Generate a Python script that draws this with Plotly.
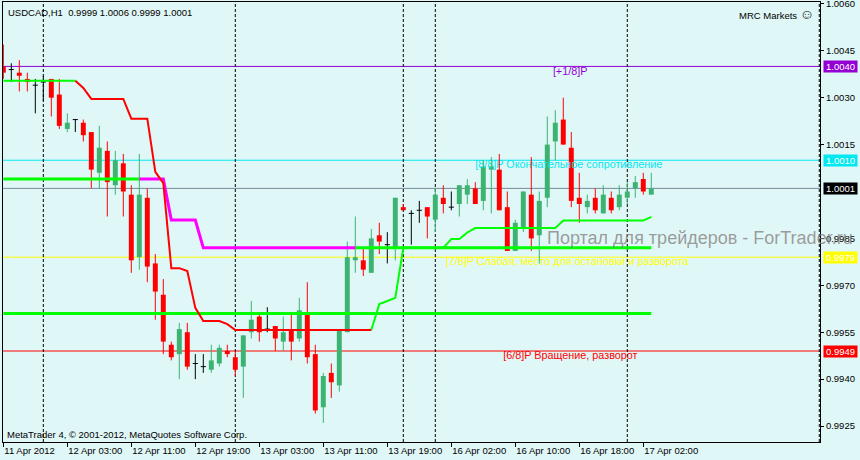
import plotly.graph_objects as go

FONT = "Liberation Sans, Arial, DejaVu Sans, sans-serif"
BG = "#E0F7F7"

# ---------------- data ----------------
bar_index = list(range(82))
opens = [1.0040, 1.0039, 1.0038, 1.0036, 1.0034, 1.0035, 1.0036, 1.0031, 1.0020, 1.0023,
         1.0022, 1.0019, 1.0006, 1.0013, 1.0002, 1.0009, 0.9999, 0.9979, 0.9998, 0.9977,
         0.9967, 0.9951, 0.9948, 0.9955, 0.9945, 0.9944, 0.9943, 0.9945, 0.9949, 0.9947,
         0.9944, 0.9955, 0.9960, 0.9956, 0.9957, 0.9952, 0.9956, 0.9953, 0.9961, 0.9948,
         0.9931, 0.9942, 0.9938, 0.9955, 0.9978, 0.9978, 0.9974, 0.9986, 0.9983, 0.9982,
         0.9995, 0.9993, 0.9994, 0.9995, 0.9991, 0.9998, 0.9995, 0.9996, 0.9999, 1.0001,
         0.9997, 1.0007, 1.0007, 0.9995, 0.9981, 0.9988, 0.9999, 0.9986, 0.9998, 1.0016,
         1.0023, 1.0014, 0.9998, 0.9995, 0.9998, 0.9993, 0.9998, 0.9995, 0.9998, 1.0001,
         1.0004, 0.9999]
highs = [1.0047, 1.0041, 1.0042, 1.0038, 1.0036, 1.0037, 1.0036, 1.0036, 1.0025, 1.0023,
         1.0023, 1.0019, 1.0021, 1.0016, 1.0013, 1.0012, 1.0002, 1.0012, 1.0001, 0.9980,
         0.9972, 0.9952, 0.9958, 0.9958, 0.9948, 0.9948, 0.9951, 0.9951, 0.9951, 0.9949,
         0.9954, 0.9965, 0.9961, 0.9963, 0.9957, 0.9960, 0.9961, 0.9966, 0.9971, 0.9951,
         0.9942, 0.9945, 0.9956, 0.9984, 0.9992, 0.9982, 0.9988, 0.9990, 0.9987, 0.9998,
         0.9996, 0.9994, 0.9997, 0.9995, 1.0001, 1.0002, 1.0000, 1.0002, 1.0004, 1.0003,
         1.0010, 1.0011, 1.0012, 1.0000, 0.9991, 1.0000, 1.0011, 1.0000, 1.0024, 1.0026,
         1.0030, 1.0019, 1.0006, 0.9999, 1.0001, 1.0002, 1.0000, 1.0002, 1.0003, 1.0005,
         1.0006, 1.0006]
lows = [1.0036, 1.0035, 1.0032, 1.0032, 1.0025, 1.0029, 1.0024, 1.0020, 1.0019, 1.0019,
        1.0016, 1.0001, 1.0001, 0.9992, 0.9999, 0.9992, 0.9974, 0.9975, 0.9971, 0.9959,
        0.9948, 0.9946, 0.9940, 0.9943, 0.9940, 0.9942, 0.9942, 0.9944, 0.9947, 0.9941,
        0.9934, 0.9953, 0.9952, 0.9955, 0.9949, 0.9949, 0.9946, 0.9952, 0.9945, 0.9929,
        0.9926, 0.9934, 0.9936, 0.9955, 0.9974, 0.9973, 0.9974, 0.9980, 0.9977, 0.9978,
        0.9994, 0.9983, 0.9990, 0.9985, 0.9987, 0.9993, 0.9994, 0.9992, 0.9996, 0.9996,
        0.9994, 0.9993, 0.9994, 0.9981, 0.9981, 0.9987, 0.9981, 0.9977, 0.9995, 1.0010,
        1.0015, 0.9995, 0.9990, 0.9993, 0.9993, 0.9993, 0.9993, 0.9994, 0.9996, 0.9998,
        0.9999, 0.9999]
closes = [1.0038, 1.0039, 1.0037, 1.0035, 1.0034, 1.0035, 1.0030, 1.0021, 1.0022, 1.0023,
          1.0018, 1.0007, 1.0014, 1.0003, 1.0010, 1.0000, 0.9978, 0.9999, 0.9976, 0.9968,
          0.9952, 0.9947, 0.9956, 0.9944, 0.9945, 0.9944, 0.9946, 0.9950, 0.9948, 0.9943,
          0.9954, 0.9959, 0.9955, 0.9956, 0.9953, 0.9955, 0.9952, 0.9962, 0.9947, 0.9930,
          0.9941, 0.9939, 0.9956, 0.9979, 0.9979, 0.9975, 0.9985, 0.9984, 0.9983, 0.9998,
          0.9994, 0.9993, 0.9994, 0.9992, 0.9999, 0.9996, 0.9995, 1.0002, 1.0002, 0.9996,
          1.0008, 1.0008, 0.9994, 0.9981, 0.9990, 1.0000, 0.9985, 0.9997, 1.0015, 1.0022,
          1.0015, 0.9997, 0.9996, 0.9997, 0.9994, 0.9999, 0.9994, 0.9999, 1.0000, 1.0003,
          1.0000, 1.0001]

# stepped indicator line A (thick: green / magenta)
line_a = [1.0004, 1.0004, 1.0004, 1.0004, 1.0004, 1.0004, 1.0004, 1.0004, 1.0004, 1.0004,
          1.0004, 1.0004, 1.0004, 1.0004, 1.0004, 1.0004, 1.0004, 1.0004, 1.0004, 1.0004,
          1.0004, 0.99909, 0.99909, 0.99909, 0.99909, 0.9982, 0.9982, 0.9982, 0.9982, 0.9982,
          0.9982, 0.9982, 0.9982, 0.9982, 0.9982, 0.9982, 0.9982, 0.9982, 0.9982, 0.9982,
          0.9982, 0.9982, 0.9982, 0.9982, 0.9982, 0.9982, 0.9982, 0.9982, 0.9982, 0.9982,
          0.9982, 0.9982, 0.9982, 0.9982, 0.9982, 0.9982, 0.9982, 0.9982, 0.9982, 0.9982,
          0.9982, 0.9982, 0.9982, 0.9982, 0.9982, 0.9982, 0.9982, 0.9982, 0.9982, 0.9982,
          0.9982, 0.9982, 0.9982, 0.9982, 0.9982, 0.9982, 0.9982, 0.9982, 0.9982, 0.9982,
          0.9982, 0.9982]
line_a_down_bars = (17, 44)          # magenta segment

# trailing line B (thin: green / red / green)
line_b = [1.00354, 1.00354, 1.00354, 1.00354, 1.00354, 1.00354, 1.00354, 1.00354, 1.00354, 1.00354,
          1.00331, 1.00296, 1.00296, 1.00296, 1.00296, 1.00296, 1.00233, 1.00233, 1.00233, 1.00063,
          1.00027, 0.99755, 0.99755, 0.99746, 0.99628, 0.99586, 0.99586, 0.99586, 0.99576, 0.99557,
          0.99557, 0.99557, 0.99557, 0.99557, 0.99557, 0.99557, 0.99557, 0.99557, 0.99557, 0.99557,
          0.99557, 0.99557, 0.99557, 0.99557, 0.99557, 0.99557, 0.99557, 0.99640, 0.99650, 0.99660,
          0.99820, 0.99820, 0.99820, 0.99820, 0.99820, 0.99820, 0.99848, 0.99848, 0.99869, 0.99883,
          0.99883, 0.99883, 0.99883, 0.99883, 0.99883, 0.99883, 0.99883, 0.99883, 0.99883, 0.99883,
          0.99907, 0.99907, 0.99907, 0.99907, 0.99907, 0.99907, 0.99907, 0.99907, 0.99907, 0.99907,
          0.99907, 0.99919]
line_b_down_bars = (9, 46)           # red segment

fixed_green_level = 0.9961

levels = [1.0040, 1.0010, 1.0001, 0.9979, 0.9949]
level_colors = ["#9400D3", "#00E8F0", "#778899", "#FFFF00", "#FF0000"]
level_box_colors = ["#9400D3", "#00E8F0", "#000000", "#FFFF00", "#FF0000"]
level_names = ["[+1/8]P", "[8/8]P Окончательное сопротивление", "",
               "[7/8]P Слабая, место для остановки и разворота", "[6/8]P Вращение, разворот"]
level_text_bar = [68.7, 59.0, None, 55.3, 62.5]

separators = [5, 29, 50, 54, 78, 102]

time_tick_index = [0, 8, 16, 24, 32, 40, 48, 56, 64, 72, 80]
time_tick_text = ["11 Apr 2012", "12 Apr 03:00", "12 Apr 11:00", "12 Apr 19:00", "13 Apr 03:00",
                  "13 Apr 11:00", "13 Apr 19:00", "16 Apr 02:00", "16 Apr 10:00", "16 Apr 18:00",
                  "17 Apr 02:00"]
price_ticks = [1.0060, 1.0045, 1.0030, 1.0015, 0.9985, 0.9970, 0.9955, 0.9940, 0.9925]

x_range = [-0.04, 102.09]
y_range = [0.99199, 1.00606]

BULL, BEAR, DOJI = "#3CB371", "#FF0000", "#000000"

fig = go.Figure()

# level texts (behind candles)
for lvl, col, name, xb in zip(levels, level_colors, level_names, level_text_bar):
    if xb is None:
        continue
    fig.add_trace(go.Scatter(x=[xb], y=[lvl], mode="text", text=[name],
                             textposition="bottom right",
                             textfont=dict(family=FONT, size=10.8, color=col),
                             hoverinfo="skip", showlegend=False))

# candles
groups = {"bull": ([], BULL), "bear": ([], BEAR), "doji": ([], DOJI)}
for i, o, h, l, c in zip(bar_index, opens, highs, lows, closes):
    key = "bull" if c > o else ("bear" if c < o else "doji")
    groups[key][0].append((i, o, h, l, c))

for key, (rows, col) in groups.items():
    wx, wy = [], []
    for i, o, h, l, c in rows:
        wx += [i, i, None]
        wy += [l, h, None]
    fig.add_trace(go.Scatter(x=wx, y=wy, mode="lines", line=dict(color=col, width=1),
                             hoverinfo="skip", showlegend=False))
    if key == "doji":
        dx, dy = [], []
        for i, o, h, l, c in rows:
            dx += [i - 0.32, i + 0.32, None]
            dy += [o, o, None]
        fig.add_trace(go.Scatter(x=dx, y=dy, mode="lines", line=dict(color=col, width=1),
                                 hoverinfo="skip", showlegend=False))
    else:
        fig.add_trace(go.Bar(x=[r[0] for r in rows],
                             base=[min(r[1], r[4]) for r in rows],
                             y=[abs(r[4] - r[1]) for r in rows],
                             width=0.62, marker=dict(color=col, line=dict(width=0)),
                             hoverinfo="skip", showlegend=False))

# fixed thick green level
fig.add_trace(go.Scatter(x=[bar_index[0], bar_index[-1]], y=[fixed_green_level, fixed_green_level],
                         mode="lines", line=dict(color="#00FF00", width=3),
                         hoverinfo="skip", showlegend=False))

def segment(values, a, b, inside):
    out = []
    for i, v in enumerate(values):
        ok = (a <= i <= b) if inside else (i <= a or i >= b)
        out.append(v if ok else None)
    return out

# line A
fig.add_trace(go.Scatter(x=bar_index, y=segment(line_a, *line_a_down_bars, False), mode="lines",
                         line=dict(color="#00FF00", width=3), connectgaps=False,
                         hoverinfo="skip", showlegend=False))
fig.add_trace(go.Scatter(x=bar_index, y=segment(line_a, *line_a_down_bars, True), mode="lines",
                         line=dict(color="#FF00FF", width=3), connectgaps=False,
                         hoverinfo="skip", showlegend=False))
# line B
fig.add_trace(go.Scatter(x=bar_index, y=segment(line_b, *line_b_down_bars, False), mode="lines",
                         line=dict(color="#00FF00", width=2), connectgaps=False,
                         hoverinfo="skip", showlegend=False))
fig.add_trace(go.Scatter(x=bar_index, y=segment(line_b, *line_b_down_bars, True), mode="lines",
                         line=dict(color="#FF0000", width=2), connectgaps=False,
                         hoverinfo="skip", showlegend=False))

shapes = []
for lvl, col in zip(levels, level_colors):
    shapes.append(dict(type="line", xref="paper", x0=0, x1=1, yref="y", y0=lvl, y1=lvl,
                       line=dict(color=col, width=1), layer="below"))
for s in separators:
    shapes.append(dict(type="line", xref="x", x0=s, x1=s, yref="paper", y0=0, y1=1,
                       line=dict(color="black", width=1, dash="3px,2px"), layer="below"))

annotations = []
for lvl, col in zip(levels, level_box_colors):
    annotations.append(dict(xref="paper", x=1, xanchor="left", xshift=3, yref="y", y=lvl,
                            text=f"{lvl:.4f}", showarrow=False, bgcolor=col,
                            font=dict(family=FONT, size=9.5, color="white"),
                            width=33, height=11, borderpad=0))
annotations += [
    dict(xref="paper", x=0, xanchor="left", xshift=3, yref="paper", y=1, yanchor="top", yshift=-3,
         text="USDCAD,H1  0.9999 1.0006 0.9999 1.0001", showarrow=False,
         font=dict(family=FONT, size=9.5, color="black")),
    dict(xref="paper", x=1, xanchor="right", xshift=-4, yref="paper", y=1, yanchor="top", yshift=-2,
         text="MRC Markets <span style='font-size:14px'>☺</span>", showarrow=False,
         font=dict(family=FONT, size=9.5, color="black")),
    dict(xref="paper", x=0, xanchor="left", xshift=2, yref="paper", y=0, yanchor="bottom", yshift=0,
         text="MetaTrader 4, © 2001-2012, MetaQuotes Software Corp.", showarrow=False,
         font=dict(family=FONT, size=9.5, color="black")),
    dict(xref="paper", x=0.663, xanchor="left", yref="paper", y=0.4636, yanchor="middle",
         text="Портал для трейдеров - ForTrader.ru", showarrow=False,
         font=dict(family=FONT, size=18, color="rgba(130,125,125,0.75)")),
]

fig.update_layout(
    width=860, height=460, autosize=False,
    margin=dict(l=3, r=40, t=2, b=18, pad=0),
    paper_bgcolor=BG, plot_bgcolor=BG,
    barmode="overlay", showlegend=False,
    shapes=shapes, annotations=annotations,
    xaxis=dict(range=x_range, showgrid=False, zeroline=False, showline=True, mirror=True,
               linecolor="black", linewidth=1, ticks="outside", ticklen=4, tickcolor="black",
               tickvals=time_tick_index, ticktext=time_tick_text,
               ticklabelposition="outside right", ticklabeloverflow="allow",
               tickfont=dict(family=FONT, size=9.5, color="black"), fixedrange=True,
               automargin=False),
    yaxis=dict(range=y_range, side="right", showgrid=False, zeroline=False, showline=True,
               mirror=True, linecolor="black", linewidth=1, ticks="outside", ticklen=3,
               tickcolor="black", tickvals=price_ticks, tickformat=".4f",
               ticklabeloverflow="allow",
               tickfont=dict(family=FONT, size=9.5, color="black"), fixedrange=True,
               automargin=False),
)

fig.write_html(
    "out.html",
    config={"displayModeBar": False},
    post_script="document.body.style.margin='0';document.body.style.padding='0';"
                "document.body.style.overflow='hidden';"
                "document.body.style.background='" + BG + "';",
)
